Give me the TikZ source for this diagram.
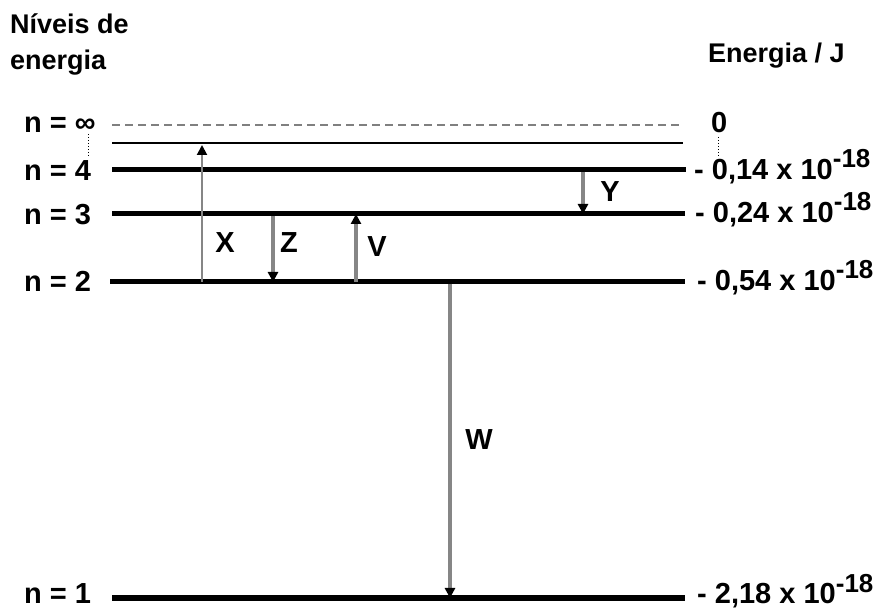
\documentclass[tikz,border=0pt]{standalone}
\usepackage{fontspec}
\setmainfont{Liberation Sans}
\usetikzlibrary{arrows.meta}

\newcommand{\potencia}{ x 10\raisebox{12pt}{\fontsize{26}{30}\selectfont -18}}

\begin{document}
\begin{tikzpicture}[x=1pt,y=-1pt,
  nivel/.style={line width=5pt},
  rotulo/.style={font=\fontsize{29}{34}\selectfont\bfseries, inner sep=0pt, anchor=base west},
  titulo/.style={font=\fontsize{27}{34}\selectfont\bfseries, inner sep=0pt, anchor=base west},
  salto/.style={draw=gray!95, line width=3.5pt, -{Triangle[length=10pt,width=10pt,color=black]}},
  letra/.style={font=\fontsize{29}{34}\selectfont\bfseries, inner sep=0pt}]
				\useasboundingbox (0,0) rectangle (879,609);
				% Titulos
				\node[titulo] (tn) at (10,34) {Níveis de};
				\node[titulo] (tg) at (10,70) {energia};
				\node[titulo] (te) at (708,63) {Energia / J};

				% Niveis
				\draw[gray, line width=2pt, dash pattern=on 8pt off 5pt] (112,125) -- (683,125);
				\draw[line width=2pt] (112,143) -- (683,143);
				\draw[nivel] (112,170) -- (686,170);
				\draw[nivel] (112,214) -- (685,214);
				\draw[nivel] (110,282) -- (685,282);
				\draw[nivel] (112,598) -- (685,598);
				\draw[dotted, line width=1pt] (88,134) -- (88,157);
				\draw[dotted, line width=1pt] (718,137) -- (718,157);

				% Rotulos
				\node[rotulo] (ninf) at (24,133) {n = ∞};
				\node[rotulo] (n4) at (24,181) {n = 4};
				\node[rotulo] (n3) at (24,225) {n = 3};
				\node[rotulo] (n2) at (24,292) {n = 2};
				\node[rotulo] (n1) at (24,604) {n = 1};

				\node[rotulo] (e0) at (711,133) {0};
				\node[rotulo] (e4) at (694,180) {- 0,14\potencia};
				\node[rotulo] (e3) at (695,223) {- 0,24\potencia};
				\node[rotulo] (e2) at (697,291) {- 0,54\potencia};
				\node[rotulo] (e1) at (697,604) {- 2,18\potencia};

				% Transicoes
				\coordinate (xa) at (202,282); \coordinate (xb) at (202,145);
				\coordinate (za) at (273,216); \coordinate (zb) at (273,282);
				\coordinate (va) at (356,282); \coordinate (vb) at (356,214);
				\coordinate (ya) at (583,172); \coordinate (yb) at (583,214);
				\coordinate (wa) at (450,284); \coordinate (wb) at (450,598);
				\draw[salto, line width=2pt] (xa) -- (xb);
				\draw[salto] (za) -- (zb);
				\draw[salto] (va) -- (vb);
				\draw[salto] (ya) -- (yb);
				\draw[salto] (wa) -- (wb);

				\node[letra] (lx) at (225,243) {X};
				\node[letra] (lz) at (289,243) {Z};
				\node[letra] (lv) at (377,247) {V};
				\node[letra] (ly) at (610,192) {Y};
				\node[letra] (lw) at (479,440) {W};
			\end{tikzpicture}
\end{document}
